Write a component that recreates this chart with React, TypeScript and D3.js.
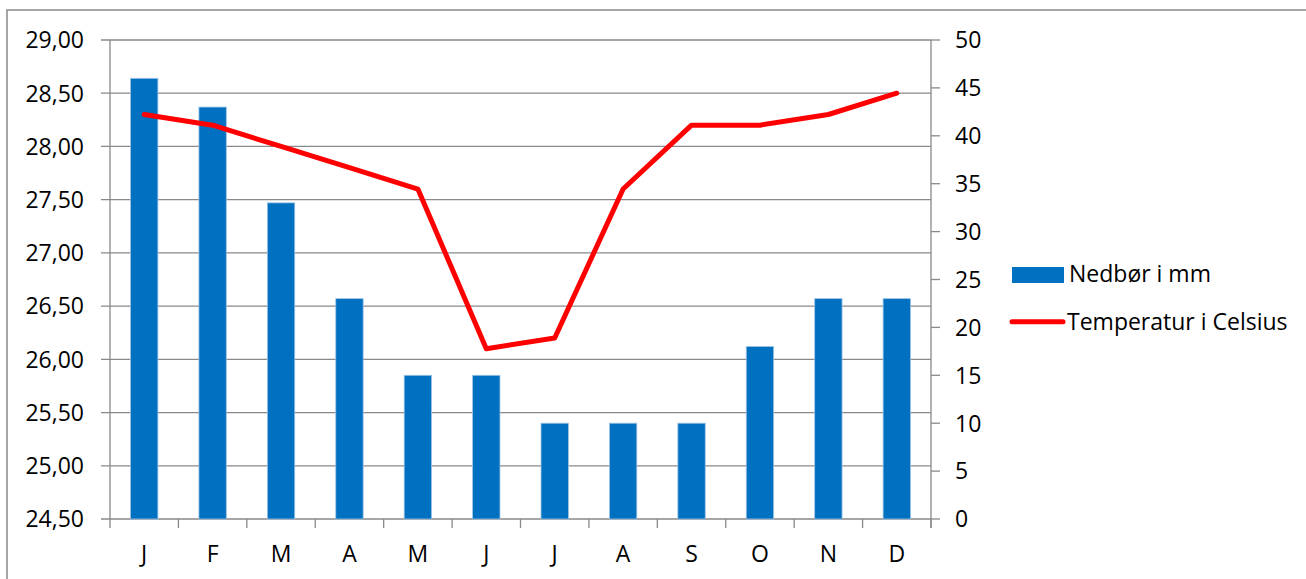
import React from "react";
import * as d3 from "d3";

const months = ["J", "F", "M", "A", "M", "J", "J", "A", "S", "O", "N", "D"];
const precipitation = [46, 43, 33, 23, 15, 15, 10, 10, 10, 18, 23, 23];
const temperature = [28.3, 28.2, 28.0, 27.8, 27.6, 26.1, 26.2, 27.6, 28.2, 28.2, 28.3, 28.5];
const leftTicks = d3.range(0, 10).map((i) => 24.5 + i * 0.5);
const rightTicks = d3.range(0, 11).map((i) => i * 5);
const seriesNames = ["Nedbør i mm", "Temperatur i Celsius"];

const W = 1306;
const H = 579;
const plot = { left: 110, right: 931, top: 40, bottom: 519 };
const FONT = "'Open Sans', 'Liberation Sans', sans-serif";
const GRID = "#898989";

export default function App() {
  const idx = months.map((_, i) => i);
  const x = d3.scaleBand<number>().domain(idx).range([plot.left, plot.right]).paddingInner(0).paddingOuter(0);
  const yL = d3.scaleLinear().domain([24.5, 29]).range([plot.bottom, plot.top]);
  const yR = d3.scaleLinear().domain([0, 50]).range([plot.bottom, plot.top]);
  const bw = x.bandwidth();
  const barW = bw / 2.5;
  const cx = (i: number) => (x(i) as number) + bw / 2;

  const line = d3
    .line<number>()
    .x((_, i) => cx(i))
    .y((d) => yL(d));

  return (
    <svg width={W} height={H} style={{ position: "absolute", left: 0, top: 0, background: "#fff" }}>
      <rect x={0} y={0} width={W} height={H} fill="#fff" />
      <rect x={7} y={10} width={W + 20} height={H + 20} fill="none" stroke={GRID} strokeWidth={1.5} />
      {/* gridlines */}
      {leftTicks.map((t) => (
        <line key={"g" + t} x1={plot.left - 9} x2={plot.right} y1={yL(t)} y2={yL(t)} stroke={GRID} strokeWidth={1.3} />
      ))}
      {/* axes lines */}
      <line x1={plot.left} x2={plot.left} y1={plot.top} y2={plot.bottom} stroke={GRID} strokeWidth={1.3} />
      <line x1={plot.right} x2={plot.right} y1={plot.top} y2={plot.bottom + 9} stroke={GRID} strokeWidth={1.3} />
      {rightTicks.map((t) => (
        <line key={"rt" + t} x1={plot.right} x2={plot.right + 9} y1={yR(t)} y2={yR(t)} stroke={GRID} strokeWidth={1.3} />
      ))}
      {d3.range(0, 13).map((i) => {
        const xx = plot.left + i * bw;
        return <line key={"ct" + i} x1={xx} x2={xx} y1={plot.bottom} y2={plot.bottom + 9} stroke={GRID} strokeWidth={1.3} />;
      })}
      {/* bars */}
      {precipitation.map((v, i) => (
        <rect
          key={"b" + i}
          x={cx(i) - barW / 2}
          y={yR(v)}
          width={barW}
          height={yR(0) - yR(v)}
          fill="#0070C0"
          stroke="#9DC3E6"
          strokeWidth={0.8}
        />
      ))}
      {/* line */}
      <path d={line(temperature) || ""} fill="none" stroke="#FF0000" strokeWidth={5} strokeLinejoin="round" strokeLinecap="round" />
      {/* left labels */}
      {leftTicks.map((t) => (
        <text key={"ll" + t} x={84} y={yL(t) + 8.3} textAnchor="end" fontFamily={FONT} fontSize={23} fill="#000">
          {t.toFixed(2).replace(".", ",")}
        </text>
      ))}
      {/* right labels */}
      {rightTicks.map((t) => (
        <text key={"rl" + t} x={955} y={yR(t) + 8.3} textAnchor="start" fontFamily={FONT} fontSize={23} fill="#000">
          {t}
        </text>
      ))}
      {/* category labels */}
      {months.map((m, i) => (
        <text key={"cl" + i} x={cx(i)} y={562} textAnchor="middle" fontFamily={FONT} fontSize={23} fill="#000">
          {m}
        </text>
      ))}
      {/* legend */}
      <rect x={1012} y={267} width={52} height={16} fill="#0070C0" />
      <text x={1069} y={282.3} fontFamily={FONT} fontSize={23} fill="#000">
        {seriesNames[0]}
      </text>
      <line x1={1012} x2={1063} y1={321.7} y2={321.7} stroke="#FF0000" strokeWidth={5} strokeLinecap="round" />
      <text x={1067} y={330} fontFamily={FONT} fontSize={23} fill="#000">
        {seriesNames[1]}
      </text>
    </svg>
  );
}
